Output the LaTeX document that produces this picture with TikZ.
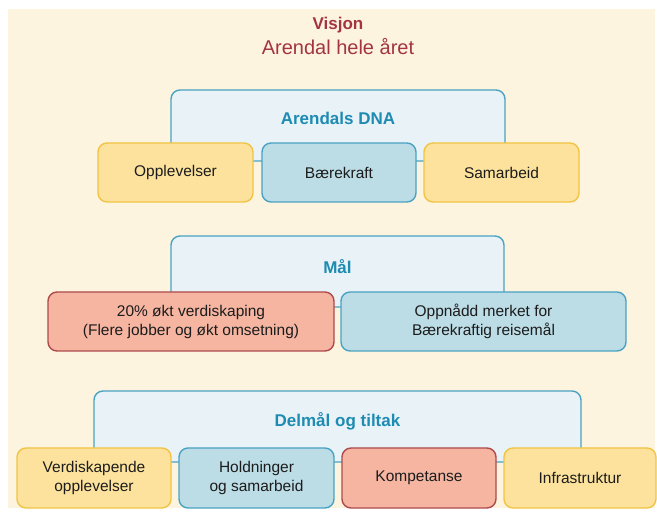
\documentclass[tikz,border=0pt]{standalone}
\usepackage{fontspec}
\setmainfont{Liberation Sans}
\definecolor{cream}{HTML}{FDF4DF}
\definecolor{visjonred}{HTML}{A33440}
\definecolor{headblue}{HTML}{1E8BB2}
\definecolor{paleblue}{HTML}{E9F3F7}
\definecolor{edgeblue}{HTML}{4AA3C2}
\definecolor{boxblue}{HTML}{BCDCE6}
\definecolor{boxyellow}{HTML}{FCE29C}
\definecolor{edgeyellow}{HTML}{F1C445}
\definecolor{boxred}{HTML}{F5B5A1}
\definecolor{edgered}{HTML}{AE4A4C}
\definecolor{ink}{HTML}{1C1C1C}

\begin{document}
\begin{tikzpicture}[x=1pt,y=-1pt,
  every node/.style={font=\fontsize{15.5}{19}\selectfont,text=ink,align=center},
  frame/.style={draw=edgeblue,fill=paleblue,line width=1.4pt,rounded corners=9pt,minimum height=71pt},
  heading/.style={font=\fontsize{17}{20}\selectfont\bfseries,text=headblue},
  item/.style={rounded corners=9pt,line width=1.4pt,minimum height=59pt,inner sep=2pt},
  yellowbox/.style={item,draw=edgeyellow,fill=boxyellow},
  bluebox/.style={item,draw=edgeblue,fill=boxblue},
  redbox/.style={item,draw=edgered,fill=boxred}]
  \useasboundingbox (0,0) rectangle (657,513);
  \fill[cream] (8,9) rectangle (655,508);
  % vision
  \node[font=\fontsize{17}{20}\selectfont\bfseries,text=visjonred] (visjon) at (338,25.5) {Visjon};
  \node[font=\fontsize{20}{24}\selectfont,text=visjonred] (visjontekst) at (338,47) {Arendal hele året};
  % Arendals DNA
  \node[frame,minimum width=334pt] (dna) at (338,125.5) {};
  \node[heading] (dnatitle) at (338,118) {Arendals DNA};
  \node[yellowbox,minimum width=155pt] (opplevelser) at (175.5,172.5) {Opplevelser};
  \node[bluebox,minimum width=154pt] (baerekraft) at (339,172.5) {Bærekraft};
  \node[yellowbox,minimum width=155pt] (samarbeid) at (501.5,172.5) {Samarbeid};
  % Mål
  \node[frame,minimum width=333pt] (maal) at (337.5,271.5) {};
  \node[heading] (maaltitle) at (337.5,267) {Mål};
  \node[redbox,minimum width=286pt] (verdiskaping) at (191,321.5) {20\% økt verdiskaping\\(Flere jobber og økt omsetning)};
  \node[bluebox,minimum width=285pt] (reisemaal) at (483.5,321.5) {Oppnådd merket for\\Bærekraftig reisemål};
  % Delmål og tiltak
  \node[frame,minimum width=487pt] (delmaal) at (337.5,426.5) {};
  \node[heading] (delmaaltitle) at (337.5,421) {Delmål og tiltak};
  \node[yellowbox,minimum width=154pt,minimum height=60pt] (vopplevelser) at (94,478) {Verdiskapende\\opplevelser};
  \node[bluebox,minimum width=155pt,minimum height=60pt] (holdninger) at (256.5,478) {Holdninger\\og samarbeid};
  \node[redbox,minimum width=154pt,minimum height=60pt] (kompetanse) at (419,478) {Kompetanse};
  \node[yellowbox,minimum width=152pt,minimum height=60pt] (infrastruktur) at (580,478) {Infrastruktur};
\end{tikzpicture}
\end{document}
